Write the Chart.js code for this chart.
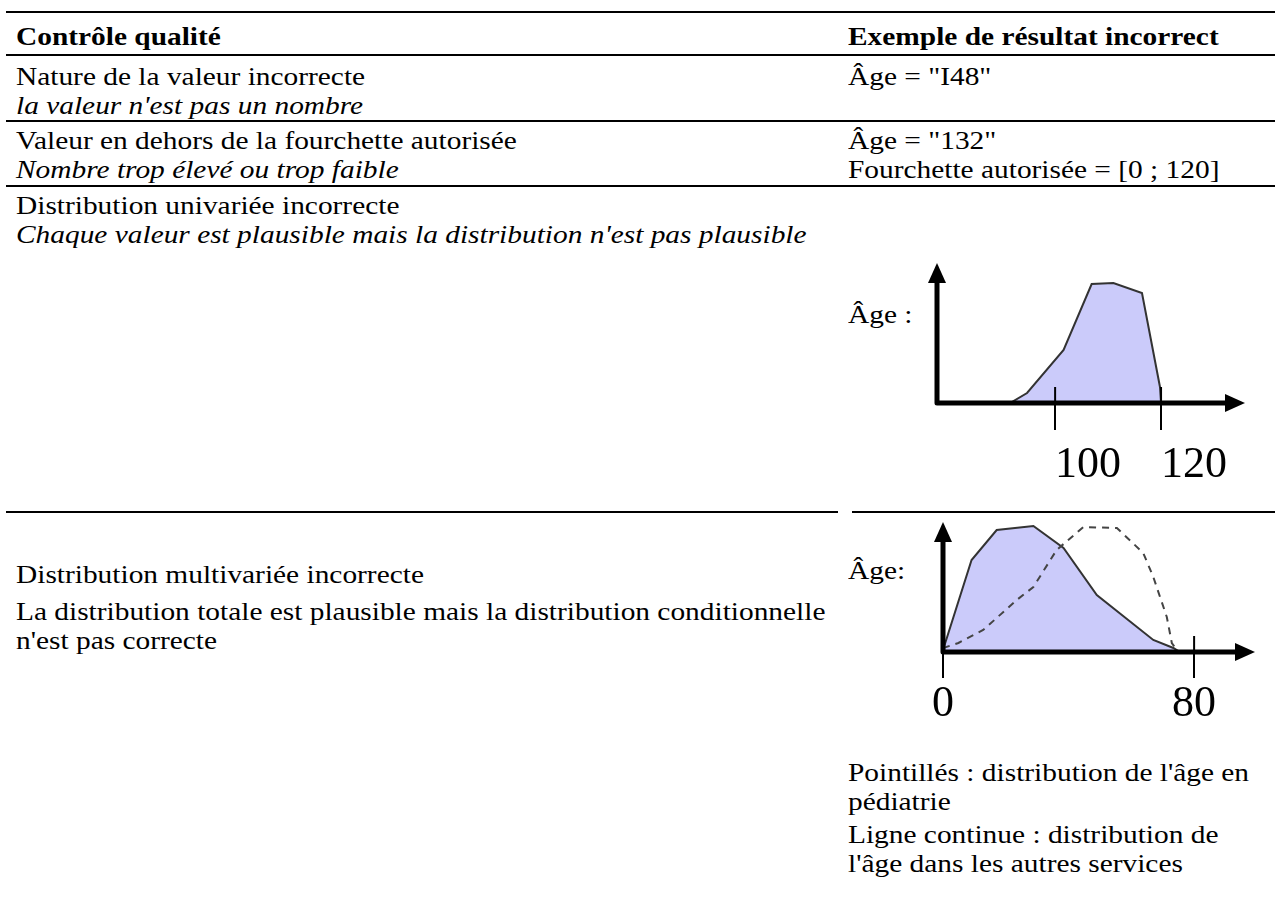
<!DOCTYPE html>
<html lang="fr">
<head>
<meta charset="utf-8">
<title>Contrôle qualité</title>
<script src="https://cdn.jsdelivr.net/npm/chart.js@4.4.1/dist/chart.umd.min.js"></script>
<style>
  html, body { margin: 0; padding: 0; background: #fff; }
  body {
    width: 1275px; height: 907px; position: relative; overflow: hidden;
    font-family: "Liberation Serif", "Times New Roman", serif;
    font-size: 26px; line-height: 29px; color: #000;
  }
  .rule { position: absolute; height: 2px; background: #000; }
  /* text is a little wider than the face at this size: stretch horizontally */
  .cell { position: absolute; white-space: nowrap; transform: scaleX(1.13); transform-origin: 0 0; }
  .b { font-weight: bold; }
  .i { font-style: italic; }
  canvas { position: absolute; }
</style>
</head>
<body>

<!-- table rules -->
<div class="rule" style="left:6px; width:1269px; top:11px;"></div>
<div class="rule" style="left:6px; width:1269px; top:54px;"></div>
<div class="rule" style="left:6px; width:1269px; top:120px;"></div>
<div class="rule" style="left:6px; width:1269px; top:185px;"></div>
<div class="rule" style="left:6px; width:832px; top:511px;"></div>
<div class="rule" style="left:852px; width:423px; top:511px;"></div>

<!-- header -->
<div class="cell b" style="left:16px; top:22px;">Contrôle qualité</div>
<div class="cell b" style="left:848px; top:22px;">Exemple de résultat incorrect</div>

<!-- row 1 -->
<div class="cell" style="left:16px; top:62px;">Nature de la valeur incorrecte<br><span class="i">la valeur n'est pas un nombre</span></div>
<div class="cell" style="left:848px; top:62px;">Âge = "I48"</div>

<!-- row 2 -->
<div class="cell" style="left:16px; top:126px;">Valeur en dehors de la fourchette autorisée<br><span class="i">Nombre trop élevé ou trop faible</span></div>
<div class="cell" style="left:848px; top:126px;">Âge = "132"<br>Fourchette autorisée = [0 ; 120]</div>

<!-- row 3 -->
<div class="cell" style="left:16px; top:191px;">Distribution univariée incorrecte<br><span class="i">Chaque valeur est plausible mais la distribution n'est pas plausible</span></div>
<div class="cell" style="left:848px; top:300px;">Âge :</div>
<canvas id="uni" width="360" height="240" style="left:900px; top:250px;"></canvas>

<!-- row 4 -->
<div class="cell" style="left:16px; top:560px;">Distribution multivariée incorrecte</div>
<div class="cell" style="left:16px; top:597px;">La distribution totale est plausible mais la distribution conditionnelle<br>n'est pas correcte</div>
<div class="cell" style="left:848px; top:556px;">Âge:</div>
<canvas id="multi" width="370" height="235" style="left:900px; top:505px;"></canvas>
<div class="cell" style="left:848px; top:758px;">Pointillés : distribution de l'âge en<br>pédiatrie</div>
<div class="cell" style="left:848px; top:820px;">Ligne continue : distribution de<br>l'âge dans les autres services</div>

<script>
// ── Data ────────────────────────────────────────────────────────────────────

// univariate: age distribution with mass above the allowed range
const uniAge   = [91.5, 94.7, 101.6, 106.9, 111, 116.4, 119.8, 120];
const uniDens  = [0, 10, 53, 119, 120, 110, 16, 0];
const uniTicks = [100, 120];

// multivariate: other services (solid, filled) vs paediatrics (dashed)
const autresAge  = [0, 9.1, 17.1, 28.8, 38.4, 49, 67, 73.4, 75.5];
const autresDens = [2, 92, 122, 126, 104, 57, 12, 4, 0];
const pediaAge   = [0, 4.9, 12.8, 23.5, 28.8, 36.2, 44.7, 55.4, 63.8, 67, 71.3, 72.9, 74.5];
const pediaDens  = [4, 9, 22, 52, 65, 102, 125, 124, 99, 75, 35, 9, 2];
const multiTicks = [0, 80];

const toPoints = (xs, ys) => xs.map((x, i) => ({ x, y: ys[i] }));

// ── Axes with arrow heads ───────────────────────────────────────────────────
// Draws both axis lines at the chart area edges, arrow tips at top / right,
// and the short part of each tick mark that sticks up above the x axis.

const arrowAxes = {
  id: "arrowAxes",
  afterDraw(chart) {
    const { ctx, chartArea: a } = chart;
    const x = chart.scales.x;
    const head = 20, half = 9;
    ctx.save();
    ctx.strokeStyle = "#000";
    ctx.fillStyle = "#000";
    ctx.lineWidth = 5;
    ctx.lineJoin = "round";
    ctx.beginPath();
    ctx.moveTo(a.left, a.top + head - 2);
    ctx.lineTo(a.left, a.bottom);
    ctx.lineTo(a.right - head + 2, a.bottom);
    ctx.stroke();

    ctx.beginPath();
    ctx.moveTo(a.left, a.top);
    ctx.lineTo(a.left - half, a.top + head);
    ctx.lineTo(a.left + half, a.top + head);
    ctx.closePath();
    ctx.fill();

    ctx.beginPath();
    ctx.moveTo(a.right, a.bottom);
    ctx.lineTo(a.right - head, a.bottom - half);
    ctx.lineTo(a.right - head, a.bottom + half);
    ctx.closePath();
    ctx.fill();

    ctx.lineWidth = 2;
    x.ticks.forEach(t => {
      const px = x.getPixelForValue(t.value);
      ctx.beginPath();
      ctx.moveTo(px, a.bottom);
      ctx.lineTo(px, a.bottom - 16);
      ctx.stroke();
    });
    ctx.restore();
  }
};

// ── Chart setup ─────────────────────────────────────────────────────────────

function distChart(id, datasets, xMin, xMax, yMax, ticks, o) {
  return new Chart(document.getElementById(id), {
    type: "line",
    data: { datasets },
    options: {
      responsive: false,
      animation: false,
      layout: { padding: o.padding },
      plugins: { legend: { display: false }, tooltip: { enabled: false } },
      elements: { point: { radius: 0 }, line: { tension: 0 } },
      scales: {
        x: {
          type: "linear", min: xMin, max: xMax,
          afterBuildTicks: s => { s.ticks = ticks.map(v => ({ value: v })); },
          afterFit: s => { s.height = o.axisH; },
          grid: { drawOnChartArea: false, drawTicks: true, tickLength: o.tickLen, color: "#000", lineWidth: 2 },
          border: { display: false },
          ticks: {
            color: "#000", autoSkip: false, maxRotation: 0,
            align: o.align, padding: o.pad,
            font: { family: "Liberation Serif", size: 44 }
          }
        },
        y: { display: false, min: 0, max: yMax }
      }
    },
    plugins: [arrowAxes]
  });
}

distChart("uni", [
  { label: "Âge", data: toPoints(uniAge, uniDens), borderColor: "#333", borderWidth: 2,
    backgroundColor: "#cbcbfa", fill: "origin" }
], 77.7, 135.85, 140, uniTicks,
  { padding: { left: 37, top: 13, right: 15, bottom: 0 }, axisH: 87, tickLen: 27, pad: 9, align: "start" });

distChart("multi", [
  { label: "Pédiatrie", data: toPoints(pediaAge, pediaDens), borderColor: "#444", borderWidth: 2,
    borderDash: [7, 6], fill: false, order: 0 },
  { label: "Autres services", data: toPoints(autresAge, autresDens), borderColor: "#333", borderWidth: 2,
    backgroundColor: "#cbcbfa", fill: "origin", order: 1 }
], 0, 99.4, 130, multiTicks,
  { padding: { left: 43, top: 17, right: 15, bottom: 0 }, axisH: 88, tickLen: 26, pad: 0, align: "center" });
</script>
</body>
</html>
